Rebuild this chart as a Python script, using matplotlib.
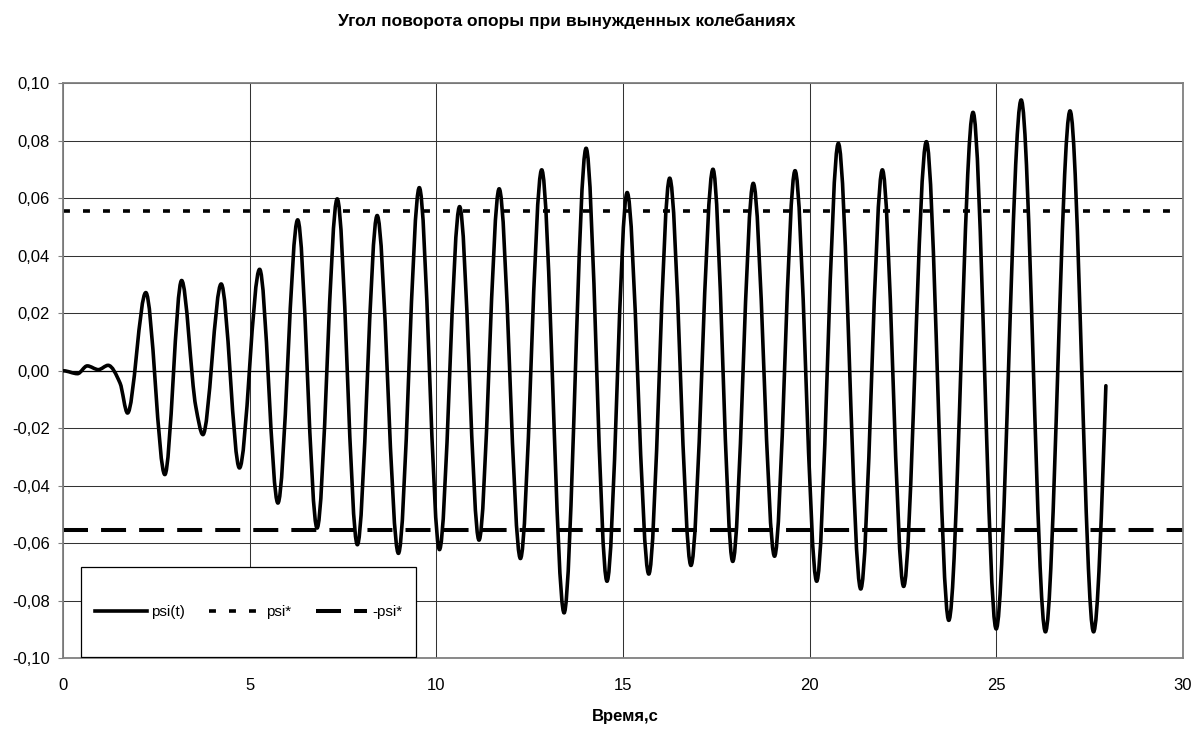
import numpy as np
import matplotlib
matplotlib.use("Agg")
import matplotlib.pyplot as plt
from matplotlib.path import Path
from matplotlib.patches import PathPatch, Rectangle
from matplotlib.lines import Line2D

plt.rcParams['font.family'] = ['Liberation Sans', 'DejaVu Sans']
plt.rcParams['lines.scale_dashes'] = False

# -- data: turning points of psi(t) -- #
t_nodes = [0.0, 0.38, 0.64, 0.94, 1.20, 1.52, 1.72, 2.21, 2.72, 3.17, 3.55, 3.74,
           4.23, 4.72, 5.26, 5.75, 6.28, 6.80, 7.34, 7.88, 8.41, 8.98, 9.54,
           10.08, 10.62, 11.14, 11.68, 12.25, 12.82, 13.42, 14.01, 14.57, 15.11,
           15.69, 16.25, 16.82, 17.41, 17.94, 18.49, 19.06, 19.61, 20.19, 20.77,
           21.37, 21.95, 22.52, 23.13, 23.73, 24.38, 25.00, 25.67, 26.32, 26.98,
           27.61, 27.94]
psi_nodes = [0.0, -0.0010, 0.0017, 0.0004, 0.0019, -0.0043, -0.0147, 0.0272, -0.0361,
             0.0314, -0.0125, -0.0222, 0.0302, -0.0338, 0.0353, -0.0460, 0.0525,
             -0.0547, 0.0598, -0.0605, 0.0540, -0.0635, 0.0637, -0.0622, 0.0571,
             -0.0589, 0.0633, -0.0653, 0.0699, -0.0842, 0.0774, -0.0732, 0.0620,
             -0.0707, 0.0670, -0.0677, 0.0701, -0.0663, 0.0652, -0.0645, 0.0696,
             -0.0732, 0.0791, -0.0759, 0.0699, -0.0750, 0.0797, -0.0868, 0.0899,
             -0.0898, 0.0942, -0.0908, 0.0904, -0.0908, -0.0052]
psi_star = 0.0555
t_span = [0, 30]

x_ticks = [0, 5, 10, 15, 20, 25, 30]
y_ticks = [-0.10, -0.08, -0.06, -0.04, -0.02, 0.0, 0.02, 0.04, 0.06, 0.08, 0.10]
y_tick_labels = ['-0,10', '-0,08', '-0,06', '-0,04', '-0,02', '0,00',
                 '0,02', '0,04', '0,06', '0,08', '0,10']


def smooth_path(t, y):
    # smoothed line like Excel: cubic segments, flat at the turning points
    t = np.asarray(t, dtype=float)
    y = np.asarray(y, dtype=float)
    h = np.diff(t)
    d = np.diff(y) / h
    m = np.zeros_like(y)
    for i in range(1, len(y) - 1):
        if d[i - 1] * d[i] > 0:
            w1 = 2 * h[i] + h[i - 1]
            w2 = h[i] + 2 * h[i - 1]
            m[i] = (w1 + w2) / (w1 / d[i - 1] + w2 / d[i])
    m[-1] = 1.5 * d[-1]
    verts = [(t[0], y[0])]
    codes = [Path.MOVETO]
    for i in range(len(h)):
        verts += [(t[i] + h[i] / 3, y[i] + m[i] * h[i] / 3),
                  (t[i + 1] - h[i] / 3, y[i + 1] - m[i + 1] * h[i] / 3),
                  (t[i + 1], y[i + 1])]
        codes += [Path.CURVE4] * 3
    return Path(verts, codes)


fig = plt.figure(figsize=(11.93, 7.33), dpi=100)
ax = fig.add_axes([0.0531, 0.1019, 0.9383, 0.7845])

ax.set_xlim(0, 30)
ax.set_ylim(-0.10, 0.10)
ax.set_xticks(x_ticks)
ax.set_xticklabels([str(v) for v in x_ticks])
ax.set_yticks(y_ticks)
ax.set_yticklabels(y_tick_labels)
ax.tick_params(axis='x', length=0, pad=14, labelsize=12)
ax.tick_params(axis='y', length=3.6, width=0.8, color='#808080', pad=6, labelsize=12)
ax.grid(True, color='#333333', linewidth=0.75)
ax.set_axisbelow(True)
for sp in ax.spines.values():
    sp.set_color('#808080')
    sp.set_linewidth(1.3)

ax.axhline(0, color='black', linewidth=0.9, zorder=1)

curve = PathPatch(smooth_path(t_nodes, psi_nodes), facecolor='none',
                  edgecolor='black', linewidth=2.6, capstyle='round',
                  joinstyle='round', zorder=3)
ax.add_patch(curve)

ax.plot(t_span, [psi_star, psi_star], color='black', linewidth=2.6,
        dashes=(5, 9.4), zorder=2)
ax.plot(t_span, [-psi_star, -psi_star], color='black', linewidth=2.9,
        dashes=(18, 9.4), zorder=2)

# legend box
ax.add_patch(Rectangle((0.0158, 0.0017), 0.299, 0.157, transform=ax.transAxes,
                       facecolor='white', edgecolor='black', linewidth=0.9,
                       zorder=5))
handles = [Line2D([], [], color='black', linewidth=2.6),
           Line2D([], [], color='black', linewidth=2.6, dashes=(5, 9.4)),
           Line2D([], [], color='black', linewidth=2.9, dashes=(18, 9.4))]
leg = ax.legend(handles, ['psi(t)', 'psi*', '-psi*'], loc='center',
                bbox_to_anchor=(0.1653, 0.0802), bbox_transform=ax.transAxes,
                ncol=3, frameon=False, fontsize=11, handlelength=3.4,
                handletextpad=0.3, columnspacing=1.6)
leg.set_zorder(6)

fig.text(567 / 1193, 1 - 21 / 733, 'Угол поворота опоры при вынужденных колебаниях',
         ha='center', va='center', fontsize=12.5, fontweight='bold')
fig.text(625 / 1193, 1 - 717 / 733, 'Время,с', ha='center', va='center',
         fontsize=12, fontweight='bold')

fig.savefig('out.png', dpi=100)
